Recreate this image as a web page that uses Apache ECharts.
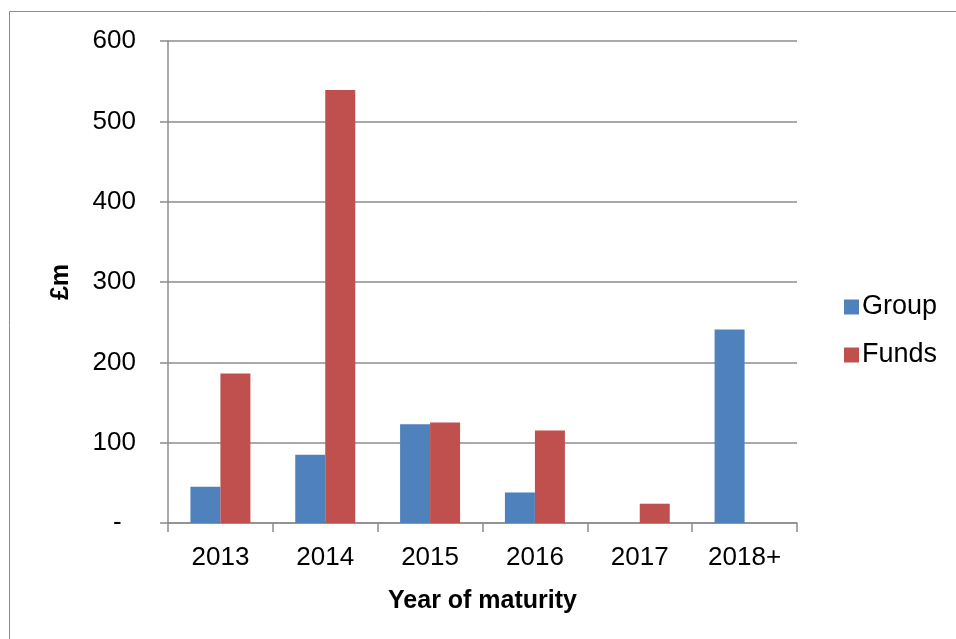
<!DOCTYPE html>
<html>
<head>
<meta charset="utf-8">
<script src="https://cdn.jsdelivr.net/npm/echarts@6/dist/echarts.min.js"></script>
<style>html,body{margin:0;padding:0;background:#fff}#c{width:956px;height:639px}</style>
</head>
<body>
<div id="c"></div>
<script>
var categories = ['2013', '2014', '2015', '2016', '2017', '2018+'];
var groupValues = [45, 85, 123, 38, 0, 241];
var fundsValues = [186, 539, 125, 115, 24, 0];
var yTicks = [0, 100, 200, 300, 400, 500, 600];

var FONT = '"Liberation Sans", Arial, sans-serif';
var chart = echarts.init(document.getElementById('c'), null, {renderer: 'canvas'});
chart.setOption({
  animation: false,
  backgroundColor: '#fff',
  graphic: [{
    type: 'rect', silent: true,
    shape: {x: 9.5, y: 11.5, width: 1000, height: 1000},
    style: {fill: 'none', stroke: '#8c8c8c', lineWidth: 1}
  }],
  grid: {left: 168, right: 159, top: 41, bottom: 116, containLabel: false},
  legend: {
    orient: 'vertical', left: 839, top: 288,
    itemWidth: 15, itemHeight: 15, itemGap: 20,
    icon: 'rect',
    textStyle: {fontFamily: FONT, fontSize: 27, color: '#000', lineHeight: 28, padding: [0, 0, 0, -2]},
    data: ['Group', 'Funds']
  },
  xAxis: {
    type: 'category', data: categories,
    name: 'Year of maturity', nameLocation: 'middle', nameGap: 66,
    nameTextStyle: {fontFamily: FONT, fontSize: 25, fontWeight: 'bold', color: '#000'},
    axisLine: {show: true, lineStyle: {color: '#8c8c8c', width: 1.5}},
    axisTick: {show: true, length: 9, alignWithLabel: false, lineStyle: {color: '#8c8c8c', width: 1.5}},
    axisLabel: {fontFamily: FONT, fontSize: 26, color: '#000', margin: 22},
    splitLine: {show: false}
  },
  yAxis: {
    type: 'value', min: yTicks[0], max: yTicks[yTicks.length - 1], interval: 100,
    name: '£m', nameLocation: 'middle', nameGap: 94, nameRotate: 90,
    nameTextStyle: {fontFamily: FONT, fontSize: 25, fontWeight: 'bold', color: '#000'},
    axisLine: {show: true, lineStyle: {color: '#8c8c8c', width: 1.5}},
    axisTick: {show: true, length: 8, lineStyle: {color: '#8c8c8c', width: 1.5}},
    axisLabel: {fontFamily: FONT, fontSize: 26, color: '#000', margin: 32,
      formatter: function (v) { return v === 0 ? '-  ' : String(v); }},
    splitLine: {show: true, lineStyle: {color: '#8c8c8c', width: 1.5}}
  },
  series: [
    {name: 'Group', type: 'bar', data: groupValues, barWidth: 30, barGap: '0%',
     itemStyle: {color: '#4F81BD'}},
    {name: 'Funds', type: 'bar', data: fundsValues, barWidth: 30, barGap: '0%',
     itemStyle: {color: '#C0504D'}}
  ]
});
</script>
</body>
</html>
